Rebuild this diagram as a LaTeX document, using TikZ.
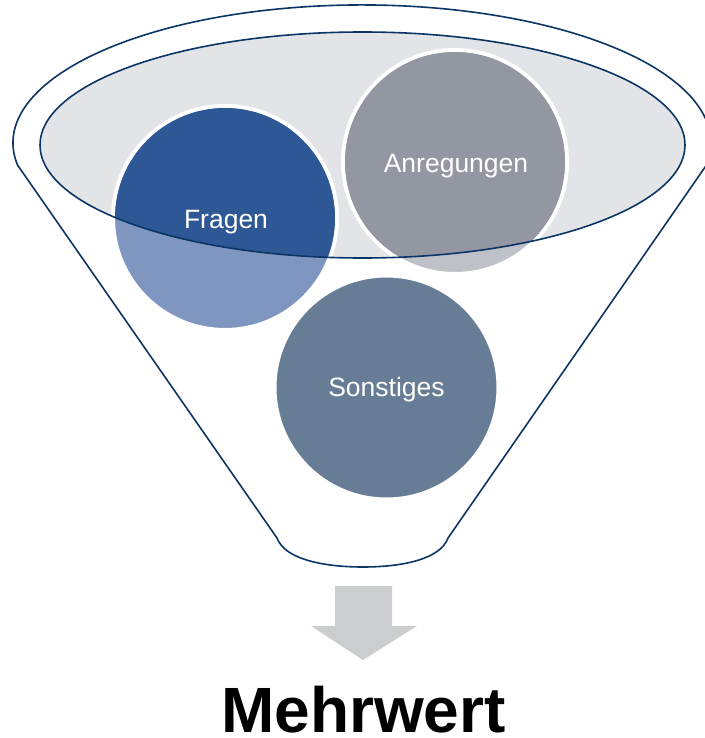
\documentclass[tikz,border=0pt]{standalone}
\usepackage{fontspec}
\setmainfont{Liberation Sans}
\definecolor{navy}{HTML}{0B3564}
\definecolor{rimgray}{HTML}{E3E4E7}
\definecolor{fragdark}{HTML}{2D5795}
\definecolor{fraglight}{HTML}{7F97C0}
\definecolor{anregdark}{HTML}{9397A2}
\definecolor{anreglight}{HTML}{BEC1C8}
\definecolor{sonst}{HTML}{677D95}
\definecolor{arrowgray}{HTML}{CBCDD1}
\begin{document}
\begin{tikzpicture}[x=1pt,y=-1pt,
	funnel/.style={draw=navy,line width=1.6pt},
	bubble/.style={circle,draw=white,line width=4pt,minimum size=224pt,inner sep=0pt},
	bubbletext/.style={text=white,anchor=base,font=\fontsize{26.5}{30}\selectfont}]
	\useasboundingbox (0,0) rectangle (704,738);
	% funnel body
	\draw[funnel] (17.5,165) arc[start angle=189.2,end angle=-9.2,x radius=349pt,y radius=138pt]
		-- (448,538) .. controls (440,560) and (400,567) .. (363,567)
		.. controls (326,567) and (285,560) .. (277,538) -- cycle;
	\fill[rimgray] (362.5,145) ellipse [x radius=322.5pt,y radius=113pt];
	% bubbles
	\node[bubble,fill=fraglight] (fragen) at (225,218) {};
	\node[bubble,fill=anreglight] (anregungen) at (455,162) {};
	\node[bubble,fill=sonst] (sonstiges) at (386.5,387.5) {};
	\begin{scope}
		\clip (362.5,145) ellipse [x radius=322.5pt,y radius=113pt];
		\fill[fragdark] (fragen.center) circle (110pt);
		\fill[anregdark] (anregungen.center) circle (110pt);
	\end{scope}
	\draw[funnel] (362.5,145) ellipse [x radius=322.5pt,y radius=113pt];
	\node[bubbletext] (fragtext) at (226,228) {Fragen};
	\node[bubbletext] (anregtext) at (456,172.5) {Anregungen};
	\node[bubbletext] (sonsttext) at (386.5,396.5) {Sonstiges};
	% arrow and result
	\fill[arrowgray] (335,586) -- (392,586) -- (392,626) -- (417,626) -- (363,660)
		-- (311,626) -- (335,626) -- cycle;
	\node[anchor=base,inner sep=0pt,font=\bfseries\fontsize{64}{70}\selectfont] (mehrwert) at (363.5,732) {Mehrwert};
\end{tikzpicture}
\end{document}
